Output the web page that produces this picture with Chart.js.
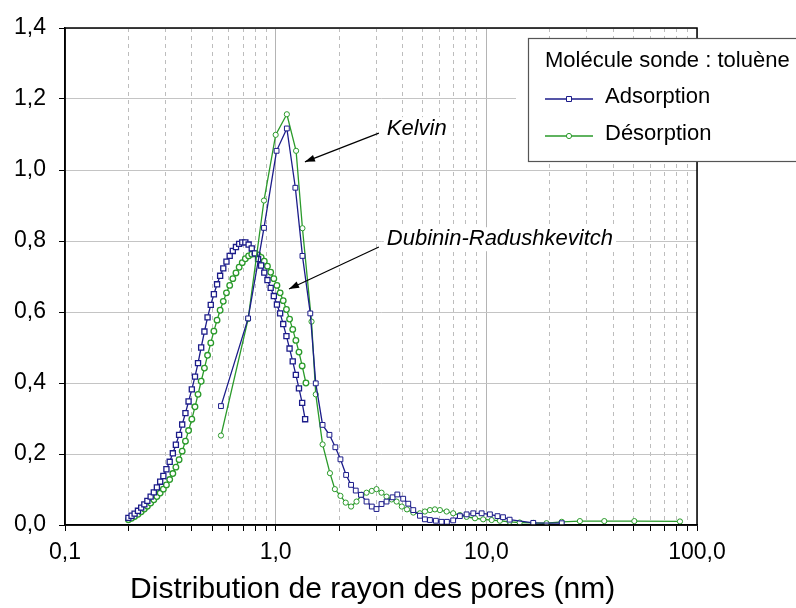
<!DOCTYPE html>
<html>
<head>
<meta charset="utf-8">
<script src="https://cdn.jsdelivr.net/npm/chart.js@4.4.1/dist/chart.umd.min.js"></script>
<style>
  body { margin: 0; background: #fff; }
  canvas { display: block; }
</style>
</head>
<body>
<canvas id="myChart" width="796" height="608"></canvas>
<script>
// Kelvin - adsorption (bleu)
const kelvinAdsX = [0.55, 0.74, 0.88, 1.01, 1.13, 1.24, 1.34, 1.46, 1.55, 1.67,
  1.80, 1.92, 2.03, 2.16, 2.28, 2.40, 2.54, 2.70, 2.86, 3.01,
  3.18, 3.36, 3.59, 3.78, 4.03, 4.26, 4.50, 4.84, 5.11, 5.40,
  5.76, 6.13, 6.50, 6.96, 7.49, 8.06, 8.67, 9.50, 10.4, 11.3,
  12.0, 12.9, 16.7, 22.8];
const kelvinAdsY = [0.335, 0.582, 0.837, 1.054, 1.117, 0.950, 0.758, 0.596, 0.399, 0.282,
  0.254, 0.219, 0.185, 0.141, 0.113, 0.097, 0.085, 0.066, 0.052, 0.045,
  0.059, 0.066, 0.078, 0.086, 0.074, 0.060, 0.042, 0.026, 0.016, 0.014,
  0.012, 0.009, 0.009, 0.013, 0.025, 0.030, 0.033, 0.033, 0.030, 0.025,
  0.022, 0.015, 0.006, 0.005];

// Kelvin - desorption (vert)
const kelvinDesX = [0.55, 0.74, 0.88, 1.00, 1.13, 1.25, 1.34, 1.48, 1.55, 1.67,
  1.81, 1.91, 2.03, 2.15, 2.28, 2.42, 2.56, 2.70, 2.86, 3.01,
  3.18, 3.36, 3.55, 3.75, 3.97, 4.20, 4.50, 4.84, 5.11, 5.40,
  5.70, 6.02, 6.48, 6.96, 7.49, 8.06, 8.83, 9.66, 10.6, 11.6,
  12.9, 14.4, 16.7, 19.3, 22.8, 27.8, 36.3, 50.4, 83.0];
const kelvinDesY = [0.252, 0.580, 0.914, 1.099, 1.157, 1.054, 0.836, 0.573, 0.368, 0.227,
  0.146, 0.101, 0.082, 0.063, 0.052, 0.066, 0.085, 0.091, 0.096, 0.101,
  0.091, 0.080, 0.072, 0.066, 0.052, 0.044, 0.035, 0.033, 0.038, 0.042,
  0.044, 0.042, 0.038, 0.033, 0.028, 0.023, 0.019, 0.016, 0.014, 0.012,
  0.009, 0.007, 0.006, 0.005, 0.009, 0.011, 0.011, 0.011, 0.010];

// Dubinin-Radushkevitch - adsorption
const drAdsX = [0.200, 0.207, 0.214, 0.222, 0.230, 0.238, 0.246, 0.255, 0.264, 0.273,
  0.283, 0.293, 0.303, 0.314, 0.325, 0.336, 0.348, 0.360, 0.373, 0.386,
  0.400, 0.414, 0.428, 0.443, 0.459, 0.475, 0.492, 0.509, 0.527, 0.545,
  0.564, 0.584, 0.605, 0.626, 0.648, 0.671, 0.694, 0.718, 0.744, 0.770,
  0.797, 0.825, 0.853, 0.883, 0.914, 0.947, 0.980, 1.014, 1.050, 1.086,
  1.125, 1.164, 1.205, 1.247, 1.290, 1.336, 1.380];
const drAdsY = [0.020, 0.026, 0.032, 0.040, 0.049, 0.058, 0.068, 0.080, 0.092, 0.106,
  0.122, 0.138, 0.157, 0.178, 0.202, 0.226, 0.254, 0.283, 0.315, 0.348,
  0.382, 0.418, 0.456, 0.500, 0.545, 0.585, 0.620, 0.650, 0.678, 0.702,
  0.723, 0.742, 0.758, 0.772, 0.783, 0.792, 0.796, 0.796, 0.790, 0.779,
  0.765, 0.749, 0.731, 0.711, 0.690, 0.668, 0.645, 0.621, 0.596, 0.566,
  0.532, 0.497, 0.461, 0.423, 0.385, 0.344, 0.298];

// Dubinin-Radushkevitch - desorption
const drDesX = [0.200, 0.207, 0.214, 0.222, 0.230, 0.238, 0.246, 0.255, 0.264, 0.273,
  0.283, 0.293, 0.303, 0.314, 0.325, 0.336, 0.348, 0.360, 0.373, 0.386,
  0.400, 0.414, 0.428, 0.443, 0.459, 0.475, 0.492, 0.509, 0.527, 0.545,
  0.564, 0.584, 0.605, 0.626, 0.648, 0.671, 0.694, 0.718, 0.744, 0.770,
  0.797, 0.825, 0.853, 0.883, 0.914, 0.947, 0.980, 1.014, 1.050, 1.086,
  1.125, 1.164, 1.205, 1.247, 1.290, 1.336, 1.392];
const drDesY = [0.015, 0.019, 0.024, 0.030, 0.037, 0.045, 0.053, 0.062, 0.071, 0.080,
  0.090, 0.101, 0.113, 0.128, 0.145, 0.163, 0.184, 0.208, 0.236, 0.266,
  0.298, 0.333, 0.368, 0.405, 0.442, 0.478, 0.513, 0.546, 0.577, 0.605,
  0.630, 0.654, 0.675, 0.694, 0.710, 0.726, 0.739, 0.750, 0.758, 0.763,
  0.764, 0.761, 0.754, 0.743, 0.729, 0.712, 0.694, 0.675, 0.654, 0.632,
  0.607, 0.580, 0.551, 0.520, 0.487, 0.448, 0.400];

// axes
const xMajor = [0.1, 1, 10, 100];
const xMajorLabels = ['0,1', '1,0', '10,0', '100,0'];
const xMinor = [0.2, 0.3, 0.4, 0.5, 0.6, 0.7, 0.8, 0.9,
  2, 3, 4, 5, 6, 7, 8, 9,
  20, 30, 40, 50, 60, 70, 80, 90];
const seriesNames = ['Adsorption', 'Désorption'];
const legendTitle = 'Molécule sonde : toluène';
const xTitle = 'Distribution de rayon des pores (nm)';

const blue = '#1c1c8a';
const green = '#2a9a2a';
const FONT = "'Liberation Sans', Arial, sans-serif";
Chart.defaults.font.family = FONT;
Chart.defaults.color = '#000';

const pts = (xs, ys) => xs.map((x, i) => ({ x: x, y: ys[i] }));
const isMajor = v => xMajor.some(m => Math.abs(v / m - 1) < 1e-6);
const xTickValues = xMajor.concat(xMinor).sort((a, b) => a - b);

function serie(label, xs, ys, color, style, r, bw) {
  return {
    label: label,
    data: pts(xs, ys),
    showLine: true,
    borderColor: color,
    borderWidth: 1.3,
    backgroundColor: '#fff',
    pointBackgroundColor: '#fff',
    pointBorderColor: color,
    pointBorderWidth: bw,
    pointStyle: style,
    pointRadius: r,
    tension: 0
  };
}

function arrow(ctx, x1, y1, x2, y2) {
  ctx.beginPath();
  ctx.moveTo(x1, y1);
  ctx.lineTo(x2, y2);
  ctx.stroke();
  const a = Math.atan2(y2 - y1, x2 - x1);
  const L = 10, W = 3.5;
  ctx.beginPath();
  ctx.moveTo(x2, y2);
  ctx.lineTo(x2 - L * Math.cos(a) + W * Math.sin(a), y2 - L * Math.sin(a) - W * Math.cos(a));
  ctx.lineTo(x2 - L * Math.cos(a) - W * Math.sin(a), y2 - L * Math.sin(a) + W * Math.cos(a));
  ctx.closePath();
  ctx.fill();
}

// cadre, annotations et legende
const decor = {
  id: 'decor',
  afterDraw(chart) {
    const ctx = chart.ctx;
    const a = chart.chartArea;
    const sx = chart.scales.x, sy = chart.scales.y;
    ctx.save();

    ctx.strokeStyle = '#000';
    ctx.lineWidth = 1.5;
    ctx.strokeRect(a.left, a.top, a.right - a.left, a.bottom - a.top);

    // annotations
    ctx.font = 'italic 22px ' + FONT;
    ctx.textBaseline = 'middle';
    ctx.textAlign = 'left';
    const notes = [
      { text: 'Kelvin', tx: 3.37, ty: 1.115, from: [3.09, 1.104], to: [1.377, 1.023] },
      { text: 'Dubinin-Radushkevitch', tx: 3.37, ty: 0.805, from: [3.09, 0.783], to: [1.157, 0.665] }
    ];
    notes.forEach(n => {
      const x = sx.getPixelForValue(n.tx), y = sy.getPixelForValue(n.ty);
      const w = ctx.measureText(n.text).width;
      ctx.fillStyle = '#fff';
      ctx.fillRect(x - 3, y - 12, w + 6, 24);
      ctx.fillStyle = '#000';
      ctx.fillText(n.text, x, y);
      ctx.strokeStyle = '#000';
      ctx.lineWidth = 1.2;
      arrow(ctx, sx.getPixelForValue(n.from[0]), sy.getPixelForValue(n.from[1]),
        sx.getPixelForValue(n.to[0]), sy.getPixelForValue(n.to[1]));
    });

    // legende
    const bx = 528, by = 38, bw = 300, bh = 123;
    ctx.fillStyle = '#fff';
    ctx.fillRect(bx - 12, by, bw + 12, bh);
    ctx.strokeStyle = '#555';
    ctx.lineWidth = 1.2;
    ctx.strokeRect(bx + 0.5, by + 0.5, bw, bh);
    ctx.fillStyle = '#000';
    ctx.font = '22px ' + FONT;
    ctx.fillText(legendTitle, 545, 61);
    const ds = chart.data.datasets;
    [0, 1].forEach(i => {
      const y = 99 + i * 37;
      const col = ds[i].borderColor;
      ctx.strokeStyle = col;
      ctx.lineWidth = 1.3;
      ctx.beginPath();
      ctx.moveTo(545, y);
      ctx.lineTo(593, y);
      ctx.stroke();
      ctx.fillStyle = '#fff';
      ctx.lineWidth = 1;
      ctx.beginPath();
      if (ds[i].pointStyle === 'rect') ctx.rect(566.5, y - 2.5, 5, 5);
      else ctx.arc(569, y, 2.6, 0, Math.PI * 2);
      ctx.fill();
      ctx.stroke();
      ctx.fillStyle = '#000';
      ctx.fillText(seriesNames[i], 605, y - 2);
    });
    ctx.restore();
  }
};

new Chart(document.getElementById('myChart'), {
  type: 'scatter',
  data: {
    datasets: [
      serie(seriesNames[0], kelvinAdsX, kelvinAdsY, blue, 'rect', 3.4, 1),
      serie(seriesNames[1], kelvinDesX, kelvinDesY, green, 'circle', 2.6, 1),
      serie('DR ' + seriesNames[0], drAdsX, drAdsY, blue, 'rect', 3.6, 1.3),
      serie('DR ' + seriesNames[1], drDesX, drDesY, green, 'circle', 2.8, 1.3)
    ]
  },
  options: {
    responsive: false,
    animation: false,
    layout: { padding: { top: 28, right: 99, left: 0, bottom: 0 } },
    plugins: { legend: { display: false }, tooltip: { enabled: false } },
    scales: {
      x: {
        type: 'logarithmic',
        min: 0.1,
        max: 100,
        afterBuildTicks: s => { s.ticks = xTickValues.map(v => ({ value: v })); },
        afterFit: s => { s.height = 83; },
        ticks: {
          autoSkip: false,
          maxRotation: 0,
          minRotation: 0,
          padding: 8,
          font: { size: 23 },
          callback: v => {
            const i = xMajor.findIndex(m => Math.abs(v / m - 1) < 1e-6);
            return i >= 0 ? xMajorLabels[i] : '';
          }
        },
        grid: {
          color: c => (c.tick && isMajor(c.tick.value)) ? '#b4b4b4' : '#bdbdbd',
          lineWidth: 1,
          tickLength: 6,
          tickColor: '#000'
        },
        border: {
          color: '#000',
          width: 1.5,
          dash: c => (c.tick && !isMajor(c.tick.value)) ? [4, 4] : []
        },
        title: {
          display: true,
          text: xTitle + '  ',
          font: { size: 30 },
          padding: { top: 0, bottom: 0 }
        }
      },
      y: {
        min: 0,
        max: 1.4,
        afterFit: s => { s.width = 65; },
        ticks: {
          stepSize: 0.2,
          padding: 13,
          font: { size: 23 },
          callback: v => v.toFixed(1).replace('.', ',')
        },
        grid: { color: '#c4c4c4', lineWidth: 1, tickLength: 6, tickColor: '#000' },
        border: { color: '#000', width: 1.5 }
      }
    }
  },
  plugins: [decor]
});
</script>
</body>
</html>
